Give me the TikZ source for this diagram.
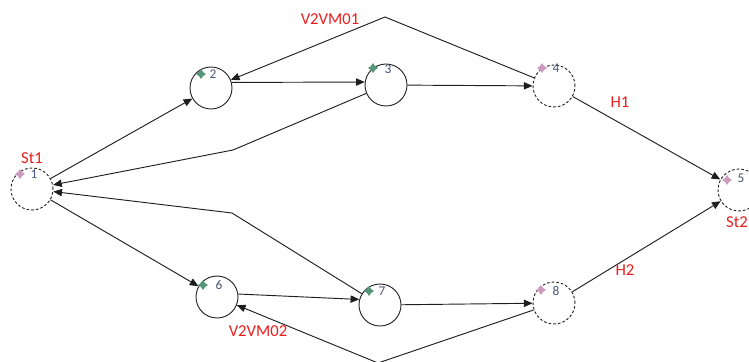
\documentclass[tikz,border=0pt]{standalone}
\usepackage{fontspec}
\setmainfont{Carlito}
\usetikzlibrary{arrows.meta}
\definecolor{lblred}{RGB}{235,30,30}
\definecolor{numcol}{RGB}{70,85,115}
\definecolor{mkpink}{RGB}{205,155,190}
\definecolor{mkgreen}{RGB}{85,150,120}
\definecolor{edgecol}{RGB}{30,30,30}
\tikzset{
  stn/.style={circle,draw=black!85,line width=0.7pt,minimum size=31.5pt,inner sep=0pt},
  stnd/.style={stn,dashed,dash pattern=on 2pt off 1.5pt},
  num/.style={font=\fontsize{10}{12}\selectfont,text=numcol,inner sep=0pt},
  lbl/.style={font=\fontsize{12.5}{14}\selectfont,text=lblred,inner sep=0pt},
  edge/.style={draw=edgecol,line width=0.7pt,-{Triangle[length=6.5pt,width=5.5pt]}},
  pics/mk/.style={code={\fill[#1] (0,-5) -- (2,-2) -- (5,0) -- (2,2) -- (0,5) -- (-2,2) -- (-5,0) -- (-2,-2) -- cycle;}}
}
\begin{document}
\begin{tikzpicture}[x=0.75pt,y=-0.75pt]
\useasboundingbox (0,0) rectangle (749,361);
% nodes
\node[stnd] (n1) at (32,189) {};
\node[stn]  (n2) at (211,88) {};
\node[stn]  (n3) at (386,85) {};
\node[stnd] (n4) at (554,86) {};
\node[stnd] (n5) at (739,190) {};
\node[stn]  (n6) at (217,297) {};
\node[stn]  (n7) at (380,305) {};
\node[stnd] (n8) at (554,303) {};
% numbers
\node[num] (t1) at ([shift={(2,-15)}]n1.center) {1};
\node[num] (t2) at ([shift={(2,-14)}]n2.center) {2};
\node[num] (t3) at ([shift={(2,-16)}]n3.center) {3};
\node[num] (t4) at ([shift={(2,-18)}]n4.center) {4};
\node[num] (t5) at ([shift={(2,-12)}]n5.center) {5};
\node[num] (t6) at ([shift={(2,-12)}]n6.center) {6};
\node[num] (t7) at ([shift={(2,-14)}]n7.center) {7};
\node[num] (t8) at ([shift={(2,-12)}]n8.center) {8};
% markers
\pic at ([shift={(-12,-15)}]n1.center) {mk=mkpink};
\pic at ([shift={(-10,-14)}]n2.center) {mk=mkgreen};
\pic at ([shift={(-13,-17)}]n3.center) {mk=mkgreen};
\pic at ([shift={(-12,-18)}]n4.center) {mk=mkpink};
\pic at ([shift={(-12,-10)}]n5.center) {mk=mkpink};
\pic at ([shift={(-14,-12)}]n6.center) {mk=mkgreen};
\pic at ([shift={(-11,-14)}]n7.center) {mk=mkgreen};
\pic at ([shift={(-13,-13)}]n8.center) {mk=mkpink};
% bend points
\coordinate (v42) at (385,17);
\coordinate (v31) at (233,150);
\coordinate (v71) at (232,213);
\coordinate (v86) at (378,363);
% edges
\draw[edge] (n1) -- (n2);
\draw[edge] (n2.15) -- (n3.172);
\draw[edge] (n3) -- (n4);
\draw[edge] (n3) -- (v31) -- (n1);
\draw[edge] (n4) -- (v42) -- (n2);
\draw[edge] (n4) -- (n5);
\draw[edge] (n8) -- (n5);
\draw[edge] (n1) -- (n6);
\draw[edge] (n6.8) -- (n7.165);
\draw[edge] (n7) -- (v71) -- (n1);
\draw[edge] (n7) -- (n8);
\draw[edge] (n8) -- (v86) -- (n6);
% labels
\node[lbl] (st1) at (32,158) {St1};
\node[lbl] (st2) at (737,222) {St2};
\node[lbl] (vm1) at (330,19) {V2VM01};
\node[lbl] (vm2) at (258,331) {V2VM02};
\node[lbl] (h1) at (620,102) {H1};
\node[lbl] (h2) at (625,270) {H2};
\end{tikzpicture}
\end{document}
